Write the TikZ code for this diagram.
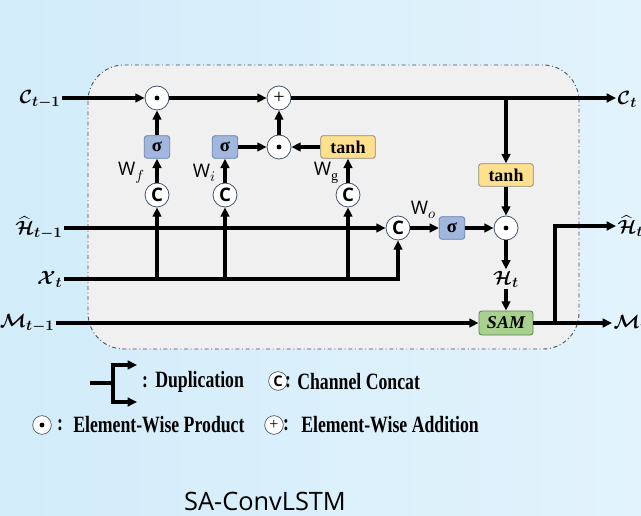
\documentclass[tikz,border=0pt]{standalone}
\usepackage{amsmath}
\usepackage{bm}
\usepackage{fontspec}
\setmainfont{Liberation Serif}
\newfontfamily\sansfont{Open Sans}
\newfontfamily\legendfont[FakeStretch=0.76]{Liberation Serif}
\usetikzlibrary{arrows.meta}
\definecolor{bgleft}{HTML}{D2ECFA}
\definecolor{bgright}{HTML}{E2F3FC}
\definecolor{cellfill}{HTML}{F0F0F0}
\definecolor{celledge}{HTML}{44546A}
\definecolor{opedge}{HTML}{44546A}
\definecolor{sigfill}{HTML}{A2B7DE}
\definecolor{sigedge}{HTML}{6A80AC}
\definecolor{tanhfill}{HTML}{FFE08C}
\definecolor{tanhedge}{HTML}{8E8A7A}
\definecolor{samfill}{HTML}{A9D18E}
\definecolor{samedge}{HTML}{5E7F50}
\newcommand{\wsub}[1]{W\raisebox{-0.45ex}{\fontsize{10.5}{10.5}\selectfont$#1$}}
\tikzset{
  flow/.style={-{Triangle[length=7pt,width=6.5pt]},line width=2.3pt},   % data path
  wire/.style={line width=2.3pt},
  opnode/.style={circle,draw=opedge,fill=white,line width=0.6pt,minimum size=18pt,inner sep=0pt},
  prod/.style={opnode,path picture={\fill[black] (path picture bounding box.center) circle (1.8pt);}},
  addn/.style={opnode,font=\fontsize{15}{15}\selectfont},
  concat/.style={opnode,font=\sansfont\bfseries\fontsize{14}{14}\selectfont},
  gate/.style={rectangle,rounded corners=2pt,line width=0.6pt,inner sep=0pt,minimum height=17pt},
  sigbox/.style={gate,draw=sigedge,fill=sigfill,minimum width=19pt,font=\bfseries\fontsize{14}{14}\selectfont},
  tanhbox/.style={gate,draw=tanhedge,fill=tanhfill,minimum width=41pt,font=\bfseries\fontsize{13.5}{13.5}\selectfont},
  sambox/.style={gate,draw=samedge,fill=samfill,minimum width=40.5pt,minimum height=18pt,font=\bfseries\itshape\fontsize{13.5}{13.5}\selectfont},
  io/.style={font=\fontsize{15}{15}\selectfont,inner sep=1pt},
  wlab/.style={font=\sansfont\fontsize{14}{14}\selectfont,inner sep=0pt},
  legend/.style={font=\legendfont\bfseries\fontsize{17.5}{17.5}\selectfont,inner sep=0pt},
  legop/.style={minimum size=14pt,line width=0.5pt},
}

\begin{document}
\begin{tikzpicture}[x=0.75pt,y=-0.75pt]
  \useasboundingbox (0,0) rectangle (641,516);
  \fill[left color=bgleft,right color=bgright] (0,0) rectangle (641,516);
  % cell
  \draw[fill=cellfill,draw=celledge,line width=0.7pt,dash dot,rounded corners=27pt] (88,65) rectangle (579,349);

  % inputs / outputs
  \node[io,anchor=east] (cin) at (62,99) {$\bm{\mathcal{C}}_{\bm{t-1}}$};
  \node[io,anchor=east] (hin) at (64,228) {$\widehat{\bm{\mathcal{H}}}_{\bm{t-1}}$};
  \node[io,anchor=east] (xin) at (64,279) {$\bm{\mathcal{X}}_{\bm{t}}$};
  \node[io,anchor=east] (min) at (56,323) {$\bm{\mathcal{M}}_{\bm{t-1}}$};
  \node[io,anchor=west] (cout) at (616,99) {$\bm{\mathcal{C}}_{\bm{t}}$};
  \node[io,anchor=west] (hout) at (616,226) {$\widehat{\bm{\mathcal{H}}}_{\bm{t}}$};
  \node[io,anchor=west] (mout) at (612,323) {$\bm{\mathcal{M}}_{\bm{t}}$};

  % operators
  \node[prod] (pf) at (157,98) {};
  \node[addn] (add) at (279,98) {+};
  \node[sigbox] (sf) at (157,147) {σ};
  \node[concat] (cf) at (157,195) {C};
  \node[sigbox] (si) at (225,147) {σ};
  \node[concat] (ci) at (225,195) {C};
  \node[prod] (pi) at (279,147) {};
  \node[tanhbox] (tg) at (348,147) {tanh};
  \node[concat] (cg) at (348,195) {C};
  \node[concat] (co) at (398,228) {C};
  \node[sigbox] (so) at (452,228) {σ};
  \node[prod] (po) at (506,228) {};
  \node[tanhbox] (tc) at (506,175) {tanh};
  \node[io] (ht) at (506,279) {$\bm{\mathcal{H}}_{\bm{t}}$};
  \node[sambox] (sam) at (506,323) {SAM};

  \node[wlab] (wf) at (131,173) {\wsub{f}};
  \node[wlab] (wi) at (204,173) {\wsub{i}};
  \node[wlab] (wg) at (326,173) {\wsub{\mathrm{g}}};
  \node[wlab] (wo) at (423,210) {\wsub{o}};

  % cell state
  \draw[flow] (cin.east |- pf) -- (pf);
  \draw[flow] (pf) -- (add);
  \draw[flow] (add) -- (cout.west |- add);
  \coordinate (cb) at (tc |- add);
  \draw[flow] (cb) -- (tc);

  % gates
  \draw[flow] (cf) -- (sf);
  \draw[flow] (sf) -- (pf);
  \draw[flow] (ci) -- (si);
  \draw[flow] (si) -- (pi);
  \draw[flow] (cg) -- (tg);
  \draw[flow] (tg) -- (pi);
  \draw[flow] (pi) -- (add);
  \draw[flow] (hin.east) -- (co);
  \draw[flow] (xin.east) -| (co);
  \draw[flow] (cf |- xin) -- (cf);
  \draw[flow] (ci |- xin) -- (ci);
  \draw[flow] (cg |- xin) -- (cg);
  \draw[flow] (co) -- (so);
  \draw[flow] (so) -- (po);
  \draw[flow] (tc) -- (po);
  \draw[flow] (po) -- (ht);
  \draw[flow] (ht) -- (sam);

  % memory
  \draw[flow] (min.east) -- (sam);
  \draw[flow] (sam) -- (mout.west);
  \coordinate (dup) at (555,323);
  \draw[flow] (dup) |- (hout.west);

  % legend
  \coordinate (l0) at (90,383);
  \coordinate (l1) at (113,383);
  \draw[wire] (l0) -- (l1);
  \draw[flow] (l1) |- (137,365);
  \draw[flow] (l1) |- (137,402);
  \node[legend] (k1) at (145,382) {:};
  \node[legend,anchor=west] (t1) at (155,382) {Duplication};
  \node[concat,legop,font=\sansfont\bfseries\fontsize{11}{11}\selectfont] (kc) at (278,381) {C};
  \node[legend] (k2) at (288,382) {:};
  \node[legend,anchor=west] (t2) at (297,382) {Channel Concat};
  \node[prod,legop] (kp) at (42,425) {};
  \node[legend] (k3) at (60,425) {:};
  \node[legend,anchor=west] (t3) at (73,425) {Element-Wise Product};
  \node[addn,legop,font=\fontsize{12}{12}\selectfont] (ka) at (274,425) {+};
  \node[legend] (k4) at (286,425) {:};
  \node[legend,anchor=west] (t4) at (301,425) {Element-Wise Addition};

  \node[font=\sansfont\fontsize{19}{19}\selectfont,anchor=base] (title) at (265,510) {SA-ConvLSTM};
\end{tikzpicture}
\end{document}
